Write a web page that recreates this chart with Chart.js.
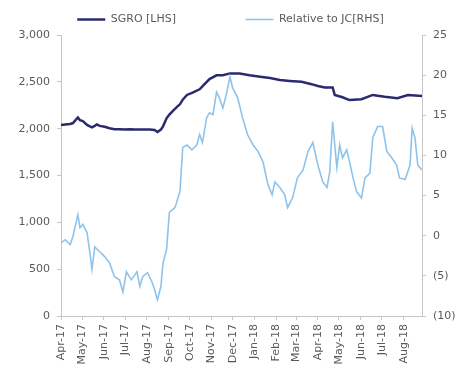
<!DOCTYPE html>
<html>
<head>
<meta charset="utf-8">
<script src="https://cdn.jsdelivr.net/npm/chart.js@4/dist/chart.umd.min.js"></script>
<style>
  html, body { margin: 0; padding: 0; background: #ffffff; }
  canvas { display: block; }
</style>
</head>
<body>
<canvas id="chart" width="461" height="371"></canvas>
<script>
// Month tick labels along the bottom axis
const monthLabels = ['Apr-17','May-17','Jun-17','Jul-17','Aug-17','Sep-17','Oct-17','Nov-17','Dec-17',
                     'Jan-18','Feb-18','Mar-18','Apr-18','May-18','Jun-18','Jul-18','Aug-18'];

// SGRO share price (pence), left-hand scale
const sgroDates = ['2017-04-01','2017-04-07','2017-04-14','2017-04-18','2017-04-25','2017-04-28','2017-05-02',
  '2017-05-08','2017-05-12','2017-05-15','2017-05-19','2017-05-22','2017-05-26','2017-06-02','2017-06-09',
  '2017-06-16','2017-06-23','2017-07-01','2017-07-08','2017-07-15','2017-07-22','2017-07-29','2017-08-05',
  '2017-08-12','2017-08-16','2017-08-21','2017-08-24','2017-08-29','2017-09-02','2017-09-07','2017-09-14',
  '2017-09-17','2017-09-21','2017-09-27','2017-10-05','2017-10-15','2017-10-22','2017-10-29','2017-11-08',
  '2017-11-17','2017-11-27','2017-12-11','2017-12-25','2018-01-09','2018-01-23','2018-02-06','2018-02-20',
  '2018-03-09','2018-03-23','2018-04-01','2018-04-11','2018-04-22','2018-04-25','2018-05-06','2018-05-16',
  '2018-06-02','2018-06-18','2018-07-05','2018-07-23','2018-08-07','2018-08-27'];
const sgroValues = [2040,2045,2050,2060,2120,2090,2080,
  2040,2025,2015,2030,2045,2030,2020,2005,
  1995,1995,1990,1995,1990,1990,1990,1990,
  1985,1965,1990,2025,2110,2150,2190,2240,
  2260,2310,2360,2385,2420,2475,2530,2570,
  2570,2590,2590,2570,2555,2540,2520,2510,
  2500,2475,2455,2440,2440,2360,2335,2305,
  2315,2360,2340,2325,2360,2350];

// Relative performance vs JC (%), right-hand scale
const relDates = ['2017-04-01','2017-04-07','2017-04-14','2017-04-18','2017-04-25','2017-04-28','2017-05-02',
  '2017-05-08','2017-05-12','2017-05-15','2017-05-19','2017-05-26','2017-06-02','2017-06-09','2017-06-16',
  '2017-06-23','2017-06-28','2017-07-03','2017-07-10','2017-07-18','2017-07-22','2017-07-26','2017-08-02',
  '2017-08-08','2017-08-12','2017-08-16','2017-08-21','2017-08-24','2017-08-29','2017-09-02','2017-09-10',
  '2017-09-17','2017-09-21','2017-09-27','2017-10-04','2017-10-11','2017-10-15','2017-10-19','2017-10-25',
  '2017-10-29','2017-11-03','2017-11-08','2017-11-12','2017-11-17','2017-11-22','2017-11-27','2017-12-01',
  '2017-12-08','2017-12-15','2017-12-22','2017-12-30','2018-01-06','2018-01-13','2018-01-20','2018-01-26',
  '2018-01-30','2018-02-06','2018-02-13','2018-02-17','2018-02-24','2018-03-03','2018-03-11','2018-03-18',
  '2018-03-25','2018-04-01','2018-04-08','2018-04-14','2018-04-18','2018-04-22','2018-04-28','2018-05-02',
  '2018-05-06','2018-05-12','2018-05-16','2018-05-21','2018-05-26','2018-06-02','2018-06-07','2018-06-14',
  '2018-06-18','2018-06-25','2018-07-02','2018-07-08','2018-07-15','2018-07-22','2018-07-26','2018-08-03',
  '2018-08-10','2018-08-13','2018-08-17','2018-08-21','2018-08-27'];
const relValues = [-0.9,-0.5,-1.1,-0.1,2.6,1.0,1.4,
  0.4,-2.1,-4.2,-1.4,-2.0,-2.6,-3.4,-5.1,
  -5.5,-7.0,-4.5,-5.5,-4.5,-6.3,-5.1,-4.6,
  -5.7,-6.7,-8.0,-6.3,-3.4,-1.7,2.9,3.5,
  5.5,11.0,11.3,10.7,11.3,12.6,11.6,14.7,
  15.3,15.1,17.9,17.2,15.9,17.6,19.8,18.4,
  17.2,14.7,12.6,11.3,10.5,9.2,6.4,5.1,
  6.7,6.0,5.1,3.5,4.7,7.2,8.2,10.5,
  11.6,8.8,6.7,6.0,8.0,14.2,8.5,11.3,
  9.7,10.7,9.2,7.2,5.5,4.7,7.2,7.8,
  12.2,13.6,13.6,10.5,9.7,8.8,7.2,7.0,
  8.8,13.4,12.2,8.8,8.2];

const seriesNames = ['SGRO [LHS]', 'Relative to JC[RHS]'];

// Dates are placed on a linear axis measured in days from 1 Apr 2017
const origin = Date.UTC(2017, 3, 1);
const dayOf = (iso) => {
  const [y, m, d] = iso.split('-').map(Number);
  return (Date.UTC(y, m - 1, d) - origin) / 86400000;
};
const monthStarts = monthLabels.map((_, i) => (Date.UTC(2017, 3 + i, 1) - origin) / 86400000);
const toPoints = (dates, values) => dates.map((d, i) => ({ x: dayOf(d), y: values[i] }));

const axisGrey = '#c6c6c6';
const textGrey = '#5a5a5a';
const font = { family: '"DejaVu Sans", sans-serif', size: 11 };

// Vertical month labels, placed at the x scale's own tick pixels
const monthAxisLabels = {
  id: 'monthAxisLabels',
  beforeDatasetsDraw(chart) {
    const scale = chart.scales.x;
    const ctx = chart.ctx;
    const top = scale.top + 8;
    monthStarts.forEach((v, i) => {
      const x = scale.getPixelForValue(v);
      ctx.save();
      ctx.font = '11px "DejaVu Sans", sans-serif';
      ctx.fillStyle = textGrey;
      ctx.textAlign = 'right';
      ctx.textBaseline = 'middle';
      ctx.translate(x, top);
      ctx.rotate(-Math.PI / 2);
      ctx.fillText(monthLabels[i], 0, 0);
      ctx.restore();
    });
  }
};

new Chart(document.getElementById('chart'), {
  type: 'line',
  data: {
    datasets: [
      { label: seriesNames[0], data: toPoints(sgroDates, sgroValues), yAxisID: 'yLeft',
        borderColor: '#2b2a6f', backgroundColor: '#2b2a6f', borderWidth: 2.5,
        pointRadius: 0, tension: 0, order: 1 },
      { label: seriesNames[1], data: toPoints(relDates, relValues), yAxisID: 'yRight',
        borderColor: '#8ec3ec', backgroundColor: '#8ec3ec', borderWidth: 1.6,
        pointRadius: 0, tension: 0, order: 0 }
    ]
  },
  options: {
    responsive: false,
    animation: false,
    devicePixelRatio: 1,
    layout: { padding: { top: 4, left: 0, right: 0, bottom: 0 } },
    plugins: {
      tooltip: { enabled: false },
      legend: {
        display: true,
        position: 'top',
        align: 'center',
        labels: {
          usePointStyle: true,
          pointStyle: 'line',
          pointStyleWidth: 28,
          boxHeight: 11,
          padding: 10,
          color: textGrey,
          font,
          // keep the two legend entries well apart
          generateLabels: (chart) => Chart.defaults.plugins.legend.labels.generateLabels(chart)
            .sort((a, b) => a.datasetIndex - b.datasetIndex)
            .map((item, i) => ({ ...item, text: i === 0 ? item.text + ' '.repeat(17) : item.text }))
        }
      }
    },
    scales: {
      x: {
        type: 'linear',
        min: 0,
        max: dayOf(relDates[relDates.length - 1]),
        afterBuildTicks: (s) => { s.ticks = monthStarts.map(v => ({ value: v })); },
        afterFit: (s) => { s.height = 55; },
        border: { display: true, color: axisGrey, width: 1 },
        grid: { display: true, drawOnChartArea: false, drawTicks: true, tickLength: 4, color: axisGrey },
        ticks: { display: false, autoSkip: false }
      },
      yLeft: {
        type: 'linear', position: 'left', min: 0, max: 3000,
        afterFit: (s) => { s.width = 61; },
        border: { display: true, color: axisGrey, width: 1 },
        grid: { display: true, drawOnChartArea: false, drawTicks: true, tickLength: 4, color: axisGrey },
        ticks: { stepSize: 500, padding: 7, color: textGrey, font, callback: (v) => v.toLocaleString('en-US') }
      },
      yRight: {
        type: 'linear', position: 'right', min: -10, max: 25,
        afterFit: (s) => { s.width = 39; },
        border: { display: true, color: axisGrey, width: 1 },
        grid: { display: true, drawOnChartArea: false, drawTicks: true, tickLength: 4, color: axisGrey },
        ticks: { stepSize: 5, padding: 7, color: textGrey, font, callback: (v) => v < 0 ? '(' + (-v) + ')' : String(v) }
      }
    }
  },
  plugins: [monthAxisLabels]
});
</script>
</body>
</html>
